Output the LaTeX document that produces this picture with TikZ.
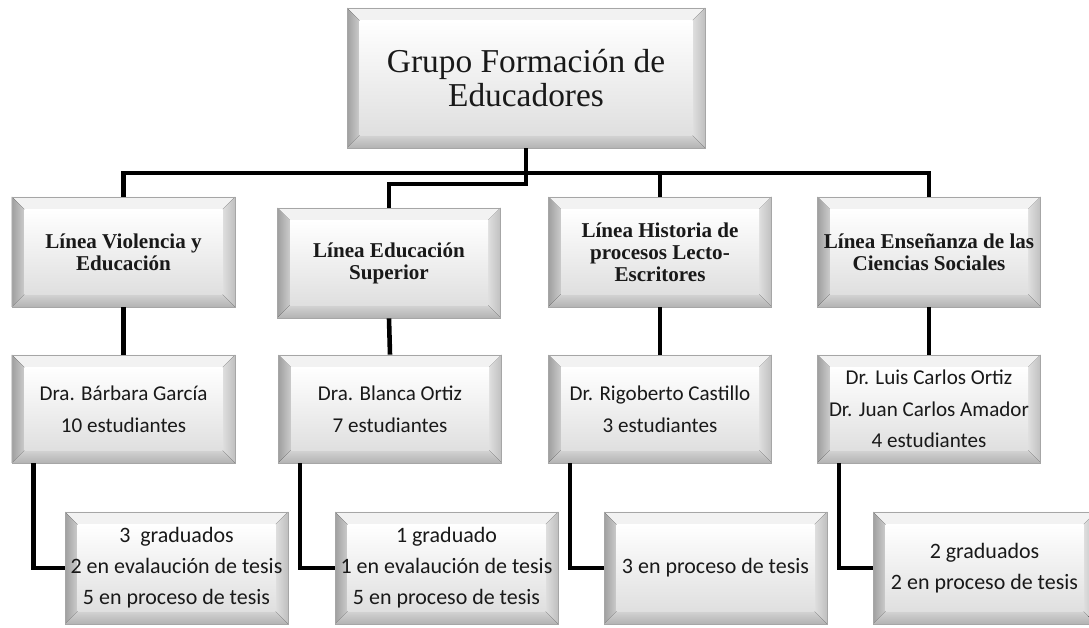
\documentclass[tikz,border=0pt]{standalone}
\usepackage{fontspec}
\setmainfont{Carlito}
\newfontfamily\cambria{Liberation Serif}
\def\bv{0.25}
\begin{document}
\begin{tikzpicture}[line join=miter,
		caja/.style={rectangle,inner sep=0pt,align=center,text=black!90,draw=gray!70,line width=0.4pt,
			path picture={
				\path (path picture bounding box.north west) coordinate (pnw)
					(path picture bounding box.north east) coordinate (pne)
					(path picture bounding box.south east) coordinate (pse)
					(path picture bounding box.south west) coordinate (psw);
				\path ([shift={(\bv,-\bv)}]pnw) coordinate (qnw)
					([shift={(-\bv,-\bv)}]pne) coordinate (qne)
					([shift={(-\bv,\bv)}]pse) coordinate (qse)
					([shift={(\bv,\bv)}]psw) coordinate (qsw);
				\fill[gray!10] (pnw)--(pne)--(qne)--(qnw)--cycle;
				\fill[left color=gray!75,right color=gray!40] (pnw)--(qnw)--(qsw)--(psw)--cycle;
				\fill[left color=gray!25,right color=gray!50] (pne)--(pse)--(qse)--(qne)--cycle;
				\fill[top color=gray!35,bottom color=gray!60] (psw)--(qsw)--(qse)--(pse)--cycle;
				\shade[top color=white,bottom color=gray!25] (qnw) rectangle (qse);
			}},
		titulo/.style={caja,minimum width=7.16cm,minimum height=2.8cm,font=\cambria\fontsize{19}{19.5}\selectfont},
		linea/.style={caja,minimum width=4.46cm,minimum height=2.2cm,font=\cambria\bfseries\fontsize{12}{12.6}\selectfont},
		tutor/.style={caja,minimum width=4.46cm,minimum height=2.16cm,font=\fontsize{12}{18}\selectfont},
		estado/.style={caja,minimum width=4.46cm,minimum height=2.24cm,font=\fontsize{12.5}{17.6}\selectfont},
		conn/.style={line width=2.6pt,black}]
	\useasboundingbox (0,0) rectangle (21.78,12.56);
	\node[titulo] (top) at (10.52,11.0) {Grupo Formación de\\Educadores};
	\node[linea] (l1a) at (2.47,7.52) {Línea Violencia y\\Educación};
	\node[linea] (l1b) at (7.78,7.30) {Línea Educación\\Superior};
	\node[linea] (l1c) at (13.2,7.52) {Línea Historia de\\procesos Lecto-\\Escritores};
	\node[linea] (l1d) at (18.58,7.52) {Línea Enseñanza de las\\Ciencias Sociales};
	\node[tutor] (l2a) at (2.47,4.38) {Dra. Bárbara García\\10 estudiantes};
	\node[tutor] (l2b) at (7.80,4.38) {Dra. Blanca Ortiz\\7 estudiantes};
	\node[tutor] (l2c) at (13.2,4.38) {Dr. Rigoberto Castillo\\3 estudiantes};
	\node[tutor] (l2d) at (18.58,4.38) {Dr. Luis Carlos Ortiz\\Dr. Juan Carlos Amador\\4 estudiantes};
	\node[estado] (l3a) at (3.53,1.2) {3\ \ graduados\\2 en evalaución de tesis\\5 en proceso de tesis};
	\node[estado] (l3b) at (8.93,1.2) {1 graduado\\1 en evalaución de tesis\\5 en proceso de tesis};
	\node[estado] (l3c) at (14.31,1.2) {3 en proceso de tesis};
	\node[estado] (l3d) at (19.69,1.2) {2 graduados\\2 en proceso de tesis};
	\coordinate (bus) at (10.52,9.1);
	\coordinate (bus2) at (10.52,8.88);
	\draw[conn] (top.south) -- (bus2) -| (l1b.north);
	\draw[conn] (l1a.north) |- (bus) -| (l1d.north);
	\draw[conn] (bus -| l1c.north) -- (l1c.north);
	\foreach \i in {a,b,c,d}{
		\draw[conn] (l1\i.south) -- (l2\i.north);
		\draw[conn] ([xshift=0.44cm]l2\i.south west) |- (l3\i.west);
	}
\end{tikzpicture}
\end{document}
